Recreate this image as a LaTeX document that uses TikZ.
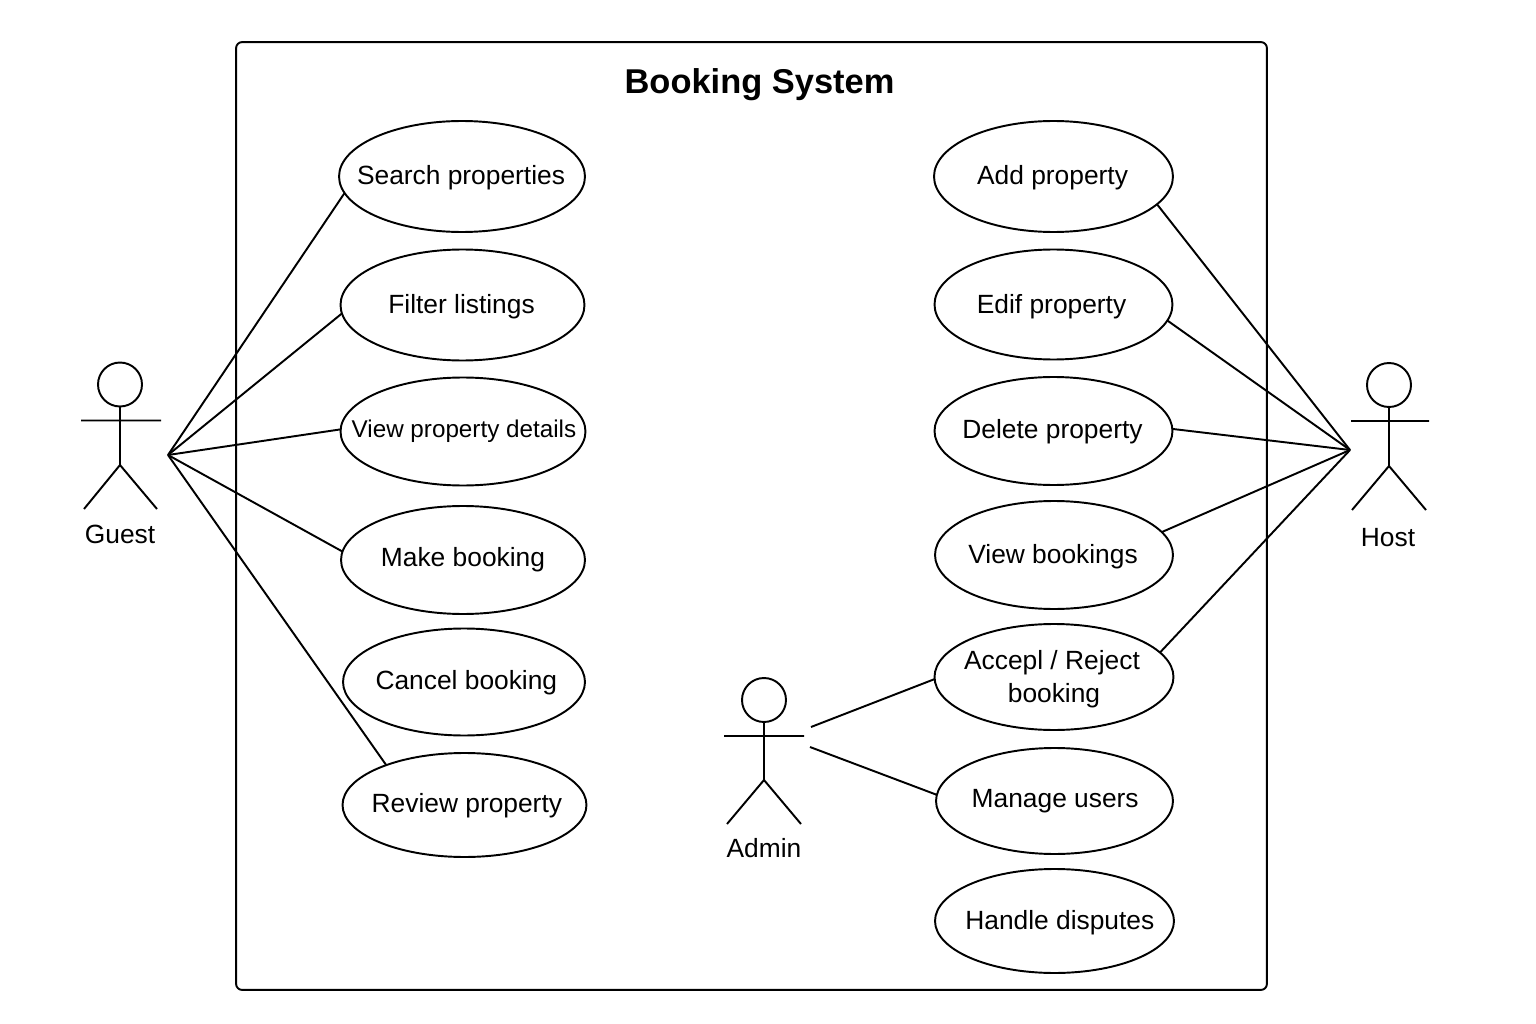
\documentclass[tikz,border=0pt]{standalone}
\usepackage{fontspec}
\setmainfont{Liberation Sans}
\usetikzlibrary{shapes.geometric}
\newcommand{\uctext}[3]{\makebox[0pt]{\hspace*{#1}\raisebox{\dimexpr#2-3.85pt}[0pt][0pt]{#3}}}

\begin{document}
\begin{tikzpicture}[x=0.02cm, y=-0.02cm, line width=1.1pt,
	every node/.style={font=\fontsize{15}{18.7}\selectfont},
	usecase/.style 2 args={ellipse, draw, inner sep=0pt, outer sep=0pt, minimum width=#1, minimum height=#2},
	head/.style={circle, draw, inner sep=0pt, outer sep=0pt, minimum size=0.88cm},
	link/.style={line width=1.1pt}]
	\useasboundingbox (0,0) rectangle (1536,1024);
	\node (frame) [draw, rounded corners=0.12cm, inner sep=0pt, outer sep=0pt, minimum width=20.62cm, minimum height=18.96cm] at (751.5,516) {};
	\node (title) [font=\fontsize{19.6}{22}\selectfont\bfseries] at (759.5,85) {Booking System};

	% guest side
	\node (search) [usecase={4.92cm}{2.22cm}] at (462,176.5) {\uctext{-1.1pt}{-0.57pt}{Search properties}};
	\node (filter) [usecase={4.88cm}{2.22cm}] at (462.5,305) {\uctext{-1.1pt}{-1.1pt}{Filter listings}};
	\node (details) [usecase={4.9cm}{2.16cm}] at (463,431.5) {\uctext{1.1pt}{0.3pt}{\fontsize{13.8}{16}\selectfont View property details}};
	\node (make) [usecase={4.88cm}{2.16cm}] at (463,560) {\uctext{0pt}{0pt}{Make booking}};
	\node (cancel) [usecase={4.84cm}{2.14cm}] at (464,682) {\uctext{2.7pt}{-0.57pt}{Cancel booking}};
	\node (review) [usecase={4.88cm}{2.08cm}] at (464.5,805) {\uctext{2.7pt}{-0.57pt}{Review property}};

	% host side
	\node (add) [usecase={4.78cm}{2.22cm}] at (1053.5,176.5) {\uctext{-1.1pt}{-0.57pt}{Add property}};
	\node (edit) [usecase={4.76cm}{2.2cm}] at (1053.5,304.5) {\uctext{-2.2pt}{-1.1pt}{Edif property}};
	\node (delete) [usecase={4.76cm}{2.16cm}] at (1053.5,431) {\uctext{-1.1pt}{-0.57pt}{Delete property}};
	\node (bookings) [usecase={4.76cm}{2.16cm}] at (1054,555) {\uctext{-1.1pt}{-1.1pt}{View bookings}};
	\node (accept) [usecase={4.78cm}{2.12cm}] at (1054,677) {\uctext{-2.3pt}{-1.1pt}{\begin{tabular}{@{}c@{}}Accepl / Reject\\\hspace*{2.3pt}booking\end{tabular}}};
	\node (manage) [usecase={4.74cm}{2.12cm}] at (1054.5,801) {\uctext{0.8pt}{0pt}{Manage users}};
	\node (handle) [usecase={4.78cm}{2.08cm}] at (1054.5,921) {\uctext{6.1pt}{-1.1pt}{Handle disputes}};

	% actors
	\node (guest) [head] at (120,384.5) {};
	\draw (81,420.5) -- (161,420.5) (guest.south) -- (120,465) -- (84,509) (120,465) -- (157,509);
	\node (guestlabel) at (120,534) {Guest};
	\node (host) [head] at (1389,385) {};
	\draw (1351,421) -- (1429,421) (host.south) -- (1389,466) -- (1352,510) (1389,466) -- (1426,510);
	\node (hostlabel) at (1388,538) {Host};
	\node (admin) [head] at (764,700) {};
	\draw (724,736) -- (804,736) (admin.south) -- (764,780) -- (727,824) (764,780) -- (801,824);
	\node (adminlabel) at (764,848) {Admin};

	\coordinate (guesthand) at (168,455);
	\coordinate (hosthand) at (1350,450);
	\coordinate (adminhigh) at (811,727);
	\coordinate (adminlow) at (810,747);

	\draw [link] (guesthand) -- (search.188);
	\draw [link] (guesthand) -- (filter.184);
	\draw [link] (guesthand) -- (details.179);
	\draw [link] (guesthand) -- (make.176);
	\draw [link] (guesthand) -- (review.153);
	\draw [link] (hosthand) -- (add.345);
	\draw [link] (hosthand) -- (edit.352);
	\draw [link] (hosthand) -- (delete.1);
	\draw [link] (hosthand) -- (bookings.12);
	\draw [link] (hosthand) -- (accept.13);
	\draw [link] (adminhigh) -- (accept.181);
	\draw [link] (adminlow) -- (manage.177);
\end{tikzpicture}
\end{document}
